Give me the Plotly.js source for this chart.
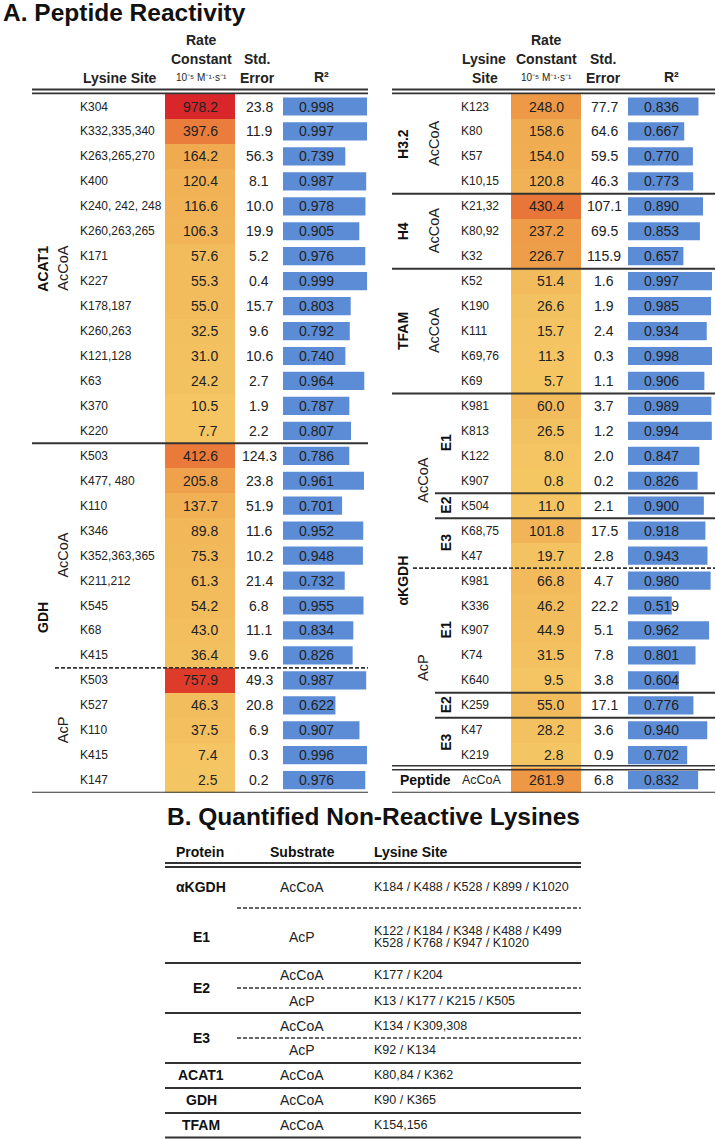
<!DOCTYPE html>
<html><head><meta charset="utf-8">
<script src="https://cdn.plot.ly/plotly-3.0.1.min.js"></script>
<style>html,body{margin:0;padding:0;background:#fff;}#chart{width:716px;height:1139px;}</style>
</head><body><div id="chart"></div>
<script>
// ---------------- DATA ----------------
// Panel A, left table
const leftSites = ["K304","K332,335,340","K263,265,270","K400","K240, 242, 248","K260,263,265","K171","K227","K178,187","K260,263","K121,128","K63","K370","K220",
  "K503","K477, 480","K110","K346","K352,363,365","K211,212","K545","K68","K415",
  "K503","K527","K110","K415","K147"];
const leftRate = [978.2,397.6,164.2,120.4,116.6,106.3,57.6,55.3,55.0,32.5,31.0,24.2,10.5,7.7,
  412.6,205.8,137.7,89.8,75.3,61.3,54.2,43.0,36.4,
  757.9,46.3,37.5,7.4,2.5];
const leftErr = [23.8,11.9,56.3,8.1,10.0,19.9,5.2,0.4,15.7,9.6,10.6,2.7,1.9,2.2,
  124.3,23.8,51.9,11.6,10.2,21.4,6.8,11.1,9.6,
  49.3,20.8,6.9,0.3,0.2];
const leftR2 = [0.998,0.997,0.739,0.987,0.978,0.905,0.976,0.999,0.803,0.792,0.740,0.964,0.787,0.807,
  0.786,0.961,0.701,0.952,0.948,0.732,0.955,0.834,0.826,
  0.987,0.622,0.907,0.996,0.976];
const leftProteins = [["ACAT1",0,13],["GDH",14,27]];
const leftSubstrates = [["AcCoA",0,13],["AcCoA",14,22],["AcP",23,27]];

// Panel A, right table
const rightSites = ["K123","K80","K57","K10,15","K21,32","K80,92","K32","K52","K190","K111","K69,76","K69",
  "K981","K813","K122","K907","K504","K68,75","K47",
  "K981","K336","K907","K74","K640","K259","K47","K219",
  "AcCoA"];
const rightRate = [248.0,158.6,154.0,120.8,430.4,237.2,226.7,51.4,26.6,15.7,11.3,5.7,
  60.0,26.5,8.0,0.8,11.0,101.8,19.7,
  66.8,46.2,44.9,31.5,9.5,55.0,28.2,2.8,
  261.9];
const rightErr = [77.7,64.6,59.5,46.3,107.1,69.5,115.9,1.6,1.9,2.4,0.3,1.1,
  3.7,1.2,2.0,0.2,2.1,17.5,2.8,
  4.7,22.2,5.1,7.8,3.8,17.1,3.6,0.9,
  6.8];
const rightR2 = [0.836,0.667,0.770,0.773,0.890,0.853,0.657,0.997,0.985,0.934,0.998,0.906,
  0.989,0.994,0.847,0.826,0.900,0.918,0.943,
  0.980,0.519,0.962,0.801,0.604,0.776,0.940,0.702,
  0.832];
const rightProteins = [["H3.2",0,3],["H4",4,6],["TFAM",7,11],["αKGDH",12,26]];
const rightSubstrates = [["AcCoA",0,3],["AcCoA",4,6],["AcCoA",7,11],["AcCoA",12,18],["AcP",19,26]];
const rightSubunits = [["E1",12,15],["E2",16,16],["E3",17,18],["E1",19,23],["E2",24,24],["E3",25,26]];
const peptideLabel = "Peptide";

// Panel B
const bProteins = ["αKGDH","E1","E2","E3","ACAT1","GDH","TFAM"];
const bSubstrates = ["AcCoA","AcP","AcCoA","AcP","AcCoA","AcP","AcCoA","AcCoA","AcCoA"];
const bSites = [["K184 / K488 / K528 / K899 / K1020"],
  ["K122 / K184 / K348 / K488 / K499","K528 / K768 / K947 / K1020"],
  ["K177 / K204"],["K13 / K177 / K215 / K505"],
  ["K134 / K309,308"],["K92 / K134"],
  ["K80,84 / K362"],["K90 / K365"],["K154,156"]];

// ---------------- LAYOUT HELPERS ----------------
const W=716,H=1139;
const PX=x=>x/W, PY=y=>1-y/H;
const FONT='Liberation Sans, Arial, Helvetica, sans-serif';
const TXT='#222';
const ROW0=106.5, ROWH=24.95, NROW=28;
const yTop=ROW0-ROWH/2, yBot=ROW0+(NROW-0.5)*ROWH;
const rowPx = i => ROW0+i*ROWH;
const idx = leftRate.map((_,i)=>i);
const BARPX = 84.3;

const colorscale = [[0,'#F4C763'],[0.06,'#F2BB5C'],[0.125,'#F1B255'],[0.17,'#F0AB50'],
  [0.25,'#EE9A46'],[0.42,'#EA7A3A'],[0.78,'#DF3A2B'],[1,'#D8262A']];
const zmax = Math.max(...leftRate, ...rightRate);

const traces = [
  {type:'heatmap', z:leftRate.map(v=>[v]), x:['k'], y:idx, xaxis:'x', yaxis:'y',
   colorscale, zmin:0, zmax, showscale:false, hoverinfo:'skip'},
  {type:'heatmap', z:rightRate.map(v=>[v]), x:['k'], y:idx, xaxis:'x2', yaxis:'y',
   colorscale, zmin:0, zmax, showscale:false, hoverinfo:'skip'},
  {type:'bar', orientation:'h', x:leftR2, y:idx, xaxis:'x3', yaxis:'y', width:0.73,
   marker:{color:'#5B8CD5', line:{width:0}}, hoverinfo:'skip'},
  {type:'bar', orientation:'h', x:rightR2, y:idx, xaxis:'x4', yaxis:'y', width:0.73,
   marker:{color:'#5B8CD5', line:{width:0}}, hoverinfo:'skip'}
];

const ann = [];
function txt(text, x, y, opts={}) {
  ann.push(Object.assign({text, x:PX(x), y:PY(y), xref:'paper', yref:'paper', showarrow:false,
    xanchor:'center', yanchor:'middle', font:{family:FONT,size:14,color:TXT}}, opts));
}
function rowTxt(text, x, i, opts={}) {
  ann.push(Object.assign({text, x:PX(x), y:i, xref:'paper', yref:'y', showarrow:false,
    xanchor:'center', yanchor:'middle', font:{family:FONT,size:14,color:TXT}}, opts));
}

// Titles
txt('<b>A. Peptide Reactivity</b>', 1, 13, {xanchor:'left', font:{family:FONT,size:24.5,color:'#111'}});
txt('<b>B. Quantified Non-Reactive Lysines</b>', 373, 816, {font:{family:FONT,size:24.5,color:'#111'}});

// Headers panel A
const hf = {family:FONT,size:14,color:TXT};
const unitsTxt = '10⁻⁵ M⁻¹·s⁻¹';
txt('<b>Lysine Site</b>',120,78,{font:hf});
[201,546].forEach(cx=>{
  txt('<b>Rate</b>',cx,40,{font:hf});
  txt('<b>Constant</b>',cx,59,{font:hf});
  txt(unitsTxt,cx,78,{font:{family:FONT,size:10,color:TXT}});
});
[257,603].forEach(cx=>{
  txt('<b>Std.</b>',cx,59,{font:hf});
  txt('<b>Error</b>',cx,78,{font:hf});
});
txt('<b>R²</b>',321,77,{font:hf});
txt('<b>R²</b>',671,77,{font:hf});
txt('<b>Lysine</b>',484,59,{font:hf});
txt('<b>Site</b>',485,78,{font:hf});

// Row texts
const sf = {family:FONT,size:12,color:TXT};
leftSites.forEach((s,i)=>rowTxt(s,78,i,{xanchor:'left',font:sf}));
leftRate.forEach((v,i)=>rowTxt(v.toFixed(1),220,i,{xanchor:'right'}));
leftErr.forEach((v,i)=>rowTxt(v.toFixed(1),259,i));
leftR2.forEach((v,i)=>ann.push({text:v.toFixed(3), x:0.166, y:i, xref:'x3', yref:'y', showarrow:false,
  xanchor:'left', yanchor:'middle', font:{family:FONT,size:14,color:TXT}}));

rightSites.forEach((s,i)=>{
  if (i===NROW-1) rowTxt(s,482,i,{font:{family:FONT,size:12.5,color:TXT}});
  else rowTxt(s,459,i,{xanchor:'left',font:sf});
});
rightRate.forEach((v,i)=>rowTxt(v.toFixed(1),566,i,{xanchor:'right'}));
rightErr.forEach((v,i)=>rowTxt(v.toFixed(1),604,i));
rightR2.forEach((v,i)=>ann.push({text:v.toFixed(3), x:0.166, y:i, xref:'x4', yref:'y', showarrow:false,
  xanchor:'left', yanchor:'middle', font:{family:FONT,size:14,color:TXT}}));

// group labels
const pf = {family:FONT,size:14,color:'#111'};
const subf = {family:FONT,size:14.5,color:TXT};
leftProteins.forEach(([s,a,b])=>rowTxt('<b>'+s+'</b>',43,(a+b)/2,{textangle:-90,font:pf}));
leftSubstrates.forEach(([s,a,b])=>rowTxt(s,63,(a+b)/2,{textangle:-90,font:subf}));
rightProteins.forEach(([s,a,b])=>rowTxt('<b>'+s+'</b>',403,(a+b)/2,{textangle:-90,font:pf}));
rightSubstrates.forEach(([s,a,b])=>rowTxt(s, a>=12?423:434,(a+b)/2,{textangle:-90,font:subf}));
rightSubunits.forEach(([s,a,b])=>rowTxt('<b>'+s+'</b>',446,(a+b)/2,{textangle:-90,font:pf}));
rowTxt('<b>'+peptideLabel+'</b>',425,NROW-1,{font:pf});

// Panel B
const bf = {family:FONT,size:14,color:'#111'};
txt('<b>Protein</b>',200,852,{font:bf});
txt('<b>Substrate</b>',302,852,{font:bf});
txt('<b>Lysine Site</b>',372,852,{xanchor:'left',font:bf});
const bProtY = [887,937,988,1038,1075,1100,1125];
const bSubY = [887,937,975,1001,1026,1050,1075,1100,1125];
bProteins.forEach((s,i)=>txt('<b>'+s+'</b>',201,bProtY[i],{font:bf}));
bSubstrates.forEach((s,i)=>txt(s,302,bSubY[i],{font:{family:FONT,size:14,color:TXT}}));
bSites.forEach((lines,i)=>{
  if (lines.length===1) txt(lines[0],372,bSubY[i],{xanchor:'left',font:{family:FONT,size:12.5,color:TXT}});
  else lines.forEach((l,k)=>txt(l,372,bSubY[i]-6+k*12.5,{xanchor:'left',font:{family:FONT,size:12.5,color:TXT}}));
});

// ---------------- LINES ----------------
const shapes=[];
const LC='#333';
function hp(y,x0,x1,opts={}){ // paper-pixel line
  shapes.push({type:'line',xref:'paper',yref:'paper',x0:PX(x0),x1:PX(x1),y0:PY(y),y1:PY(y),
    line:Object.assign({color:LC,width:2},opts)});
}
function hr(b,x0,x1,opts={}){ // line at row boundary (data units)
  shapes.push({type:'line',xref:'paper',yref:'y',x0:PX(x0),x1:PX(x1),y0:b,y1:b,
    line:Object.assign({color:LC,width:2},opts)});
}
const dash={dash:'4px,2px',width:1.6};
// header double lines
[89.5,93.3].forEach(y=>{hp(y,32,368,{width:1.8}); hp(y,392,715,{width:1.8});});
// left
hr(13.5,32,368); hr(22.5,55,368,dash); hr(27.5,32,368);
// right
[3.5,6.5,11.5].forEach(b=>hr(b,392,715));
[15.5,16.5,23.5,24.5].forEach(b=>hr(b,435,715));
hr(18.5,413,715,dash);
[rowPx(26.5)-2,rowPx(26.5)+2].forEach(y=>hp(y,392,715,{width:1.6}));
hr(27.5,392,715);
// panel B
[863,867].forEach(y=>hp(y,165,581,{width:1.8}));
[908,988,1038].forEach(y=>hp(y,237,581,dash));
[963,1013,1063,1088,1113,1137.5].forEach(y=>hp(y,165,581));

const hid = {visible:false, fixedrange:true};
const layout = {
  width:W, height:H, margin:{l:0,r:0,t:0,b:0}, paper_bgcolor:'#fff', plot_bgcolor:'rgba(0,0,0,0)',
  showlegend:false, barmode:'overlay', hovermode:false,
  xaxis: Object.assign({domain:[PX(165),PX(235)], type:'category', range:[-0.5,0.5], anchor:'y'},hid),
  xaxis2:Object.assign({domain:[PX(511),PX(581)], type:'category', range:[-0.5,0.5], anchor:'y'},hid),
  xaxis3:Object.assign({domain:[PX(283),PX(283+BARPX)], range:[0,1], anchor:'y'},hid),
  xaxis4:Object.assign({domain:[PX(628),PX(628+BARPX)], range:[0,1], anchor:'y'},hid),
  yaxis: Object.assign({domain:[PY(yBot),PY(yTop)], range:[NROW-0.5,-0.5], anchor:'x'},hid),
  annotations:ann, shapes
};
Plotly.newPlot('chart', traces, layout, {staticPlot:true, displayModeBar:false});
</script></body></html>
